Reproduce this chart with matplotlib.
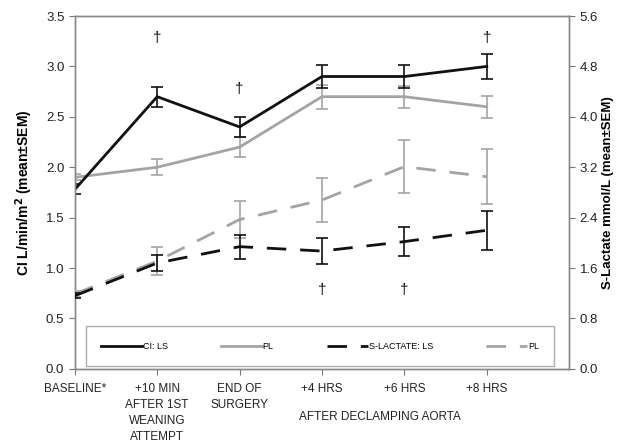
import matplotlib.pyplot as plt
from matplotlib.lines import Line2D
import numpy as np

plt.rcParams['font.family'] = ['Liberation Sans', 'DejaVu Sans']

# time points
labels = ['BASELINE*', '+10 MIN\nAFTER 1ST\nWEANING\nATTEMPT', 'END OF\nSURGERY',
          '+4 HRS', '+6 HRS', '+8 HRS']

# cardiac index (left axis)
ci_ls = [1.78, 2.70, 2.40, 2.90, 2.90, 3.00]
ci_ls_err = [0.05, 0.10, 0.10, 0.11, 0.11, 0.12]
ci_pl = [1.90, 2.00, 2.20, 2.70, 2.70, 2.60]
ci_pl_err = [0.03, 0.08, 0.10, 0.12, 0.11, 0.11]

# s-lactate (right axis)
lac_ls = [1.16, 1.68, 1.94, 1.87, 2.02, 2.20]
lac_ls_err = [0.04, 0.13, 0.19, 0.21, 0.23, 0.31]
lac_pl = [1.19, 1.71, 2.37, 2.68, 3.21, 3.05]
lac_pl_err = [0.05, 0.22, 0.30, 0.35, 0.42, 0.44]

# significance marks: (index, left-axis height)
daggers = [(1, 3.28), (2, 2.78), (5, 3.28), (3, 0.78), (4, 0.78)]

black = '#111111'
grey = '#a4a4a4'
x = np.arange(len(labels))

fig = plt.figure(figsize=(6.18, 4.45), dpi=100)
ax = fig.add_axes([0.121, 0.171, 0.8, 0.793])
ax2 = ax.twinx()

ax.errorbar(x, ci_ls, yerr=ci_ls_err, color=black, lw=2, capsize=4,
            elinewidth=1.2, capthick=1.2, zorder=4)
ax.errorbar(x, ci_pl, yerr=ci_pl_err, color=grey, lw=2, capsize=4,
            elinewidth=1.2, capthick=1.2, zorder=3)
ax2.errorbar(x, lac_ls, yerr=lac_ls_err, color=black, lw=2, capsize=4,
             elinewidth=1.2, capthick=1.2, dashes=(7, 5), zorder=4)
ax2.errorbar(x, lac_pl, yerr=lac_pl_err, color=grey, lw=2, capsize=4,
             elinewidth=1.2, capthick=1.2, dashes=(7, 5), zorder=3)

for i, yv in daggers:
    ax.text(i, yv, '†', ha='center', va='center', fontsize=11, color=black)

ax.set_xlim(0, 6)
ax.set_ylim(0, 3.5)
ax.set_yticks(np.arange(0, 3.51, 0.5))
ax.set_yticklabels(['%.1f' % v for v in np.arange(0, 3.51, 0.5)])
ax2.set_ylim(0, 5.6)
ax2.set_yticks(np.arange(0, 5.61, 0.8))
ax2.set_yticklabels(['%.1f' % v for v in np.arange(0, 5.61, 0.8)])

ax.set_xticks(x)
ax.set_xticklabels(labels, fontsize=8.5, linespacing=1.45)
ax.tick_params(axis='both', colors='#777777', labelcolor='#222222', length=4)
ax.tick_params(axis='x', pad=6)
ax.tick_params(axis='y', labelsize=9.5)
ax2.tick_params(axis='y', colors='#777777', labelcolor='#222222', length=4, labelsize=9.5)

for a in (ax, ax2):
    for s in a.spines.values():
        s.set_color('#888888')
        s.set_linewidth(1)

ax.set_ylabel('CI L/min/m$^\\mathbf{2}$ (mean±SEM)', fontsize=10, fontweight='bold', labelpad=8)
ax2.set_ylabel('S-Lactate mmol/L (mean±SEM)', fontsize=9.5, fontweight='bold', labelpad=3)

ax.text(3.7, -0.12, 'AFTER DECLAMPING AORTA', transform=ax.get_xaxis_transform(),
        ha='center', va='top', fontsize=8.5, color='#222222')

handles = [Line2D([], [], color=black, lw=2),
           Line2D([], [], color=grey, lw=2),
           Line2D([], [], color=black, lw=2, dashes=(7, 5)),
           Line2D([], [], color=grey, lw=2, dashes=(7, 5))]
leg = ax2.legend(handles, ['CI: LS', 'PL', 'S-LACTATE: LS', 'PL'],
                 ncol=4, mode='expand', bbox_to_anchor=(0.022, 0.008, 0.948, 0.108),
                 loc='lower left', fontsize=6.5, handlelength=4.5, handletextpad=0.1,
                 borderpad=1.7, frameon=True, fancybox=False, borderaxespad=0)
leg.get_frame().set_edgecolor('#999999')
leg.get_frame().set_linewidth(1)

fig.savefig('out.png', dpi=100)
